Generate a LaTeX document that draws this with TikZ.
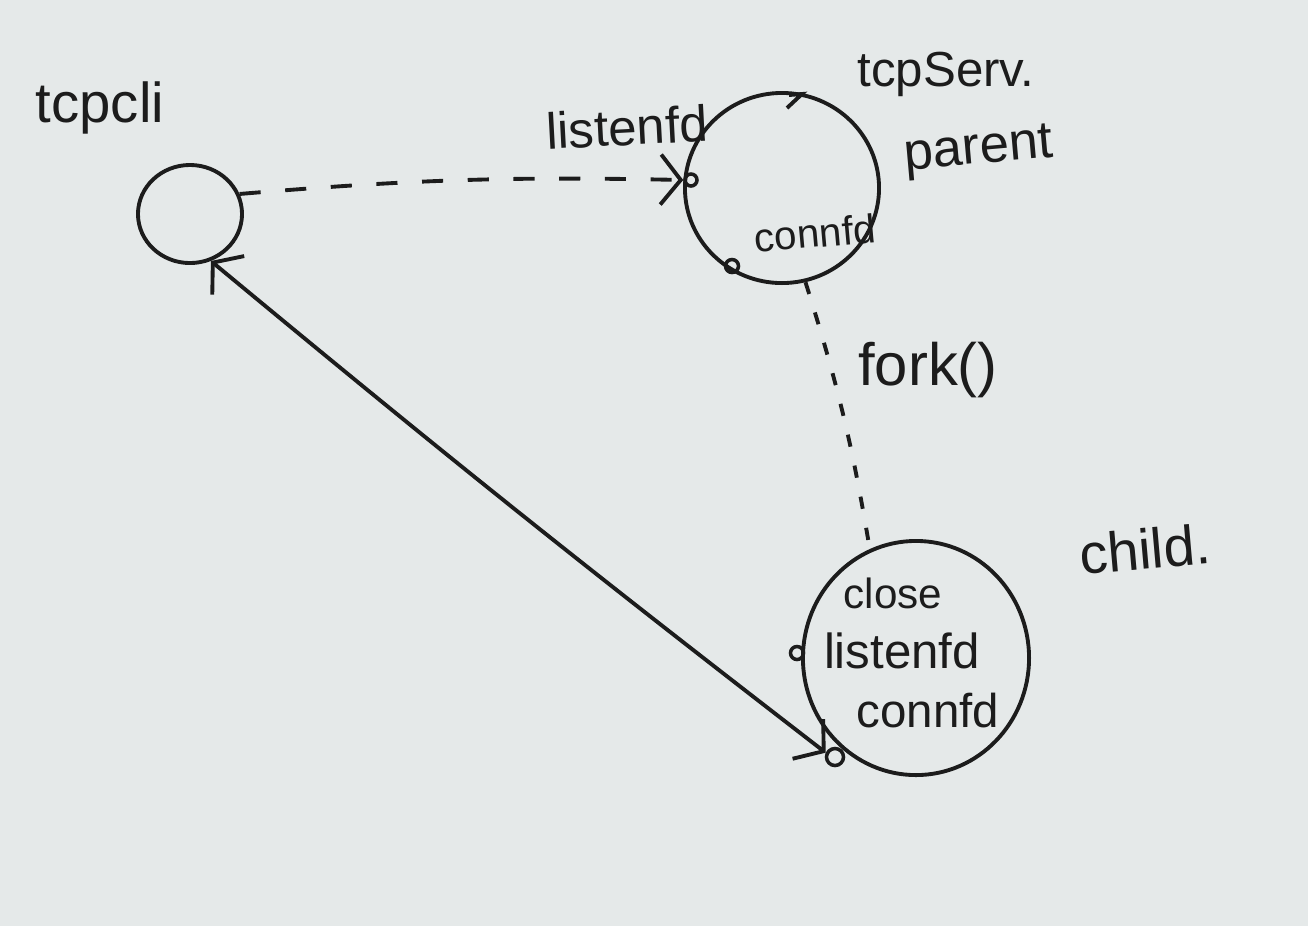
\documentclass[tikz,border=0pt]{standalone}
\usepackage{fontspec}
\setmainfont{Liberation Sans}
\usetikzlibrary{shapes.geometric,arrows.meta}
\definecolor{board}{RGB}{229,233,233}
\definecolor{ink}{RGB}{28,28,28}
\begin{document}
\begin{tikzpicture}[x=0.01cm,y=-0.01cm,
  pen/.style={draw=ink,line width=1.1pt},
  proc/.style={pen,ellipse,inner sep=0pt},
  sock/.style={pen,circle,inner sep=0pt,line width=1pt},
  lbl/.style={text=ink,inner sep=1pt,font=\fontsize{15}{17}\selectfont},
  handtip/.tip={Straight Barb[length=2mm,width=5mm,line width=1.1pt]},
  dashline/.style={pen,dash pattern=on 6pt off 7pt},
  forkline/.style={pen,dash pattern=on 3.5pt off 5.5pt},
]
\fill[board] (0,0) rectangle (1308,926);
\useasboundingbox (0,0) rectangle (1308,926);

% processes
\node[proc,minimum width=1.04cm,minimum height=0.98cm] (cli) at (190,214) {};
\node[proc,minimum width=1.94cm,minimum height=1.90cm] (parent) at (782,188) {};
\node[proc,minimum width=2.26cm,minimum height=2.34cm] (child) at (916,658) {};

% sockets
\node[sock,minimum size=0.12cm] (pls) at (691,180) {};
\node[sock,minimum size=0.13cm] (pcs) at (732,266) {};
\node[sock,minimum size=0.13cm] (cls) at (797,653) {};
\node[sock,minimum size=0.17cm] (ccs) at (835,757) {};

% direction mark on the parent circle
\coordinate (pa) at (787,108);
\coordinate (pb) at (802,94);
\draw[pen] (pa) -- (pb) -- (789,95);

% labels
\node[lbl,font=\fontsize{16}{19}\selectfont] (tcli) at (100,108) {tcpcli};
\node[lbl,font=\fontsize{14.5}{17}\selectfont,rotate=3] (tls) at (627,127) {listenfd};
\node[lbl,font=\fontsize{14}{17}\selectfont] (tserv) at (946,74) {tcpServ.};
\node[lbl,font=\fontsize{15}{17}\selectfont,rotate=5] (tpar) at (979,152) {parent};
\node[lbl,font=\fontsize{11.5}{14}\selectfont,rotate=5] (tpcon) at (815,233) {connfd};
\node[lbl,font=\fontsize{17}{19}\selectfont] (tfork) at (928,370) {fork()};
\node[lbl,font=\fontsize{16}{18}\selectfont,rotate=5] (tchild) at (1145,549) {child.};
\node[lbl,font=\fontsize{12}{14}\selectfont] (tclose) at (893,593) {close};
\node[lbl,font=\fontsize{14}{16}\selectfont] (tcls) at (902,651) {listenfd};
\node[lbl,font=\fontsize{13.5}{16}\selectfont] (tccon) at (928,711) {connfd};

% connectors
\draw[dashline,-handtip] (cli.22) to[bend left=3] (pls.west);
\draw[forkline] (parent.-76) to[bend left=4] (child.113);
\draw[pen,handtip-handtip] (cli.-66) to[bend right=1] (ccs.155);
\end{tikzpicture}
\end{document}
